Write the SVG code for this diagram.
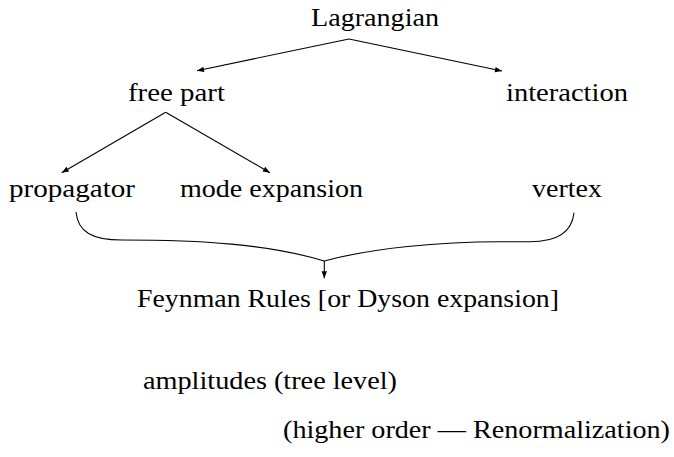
<svg xmlns="http://www.w3.org/2000/svg" width="674" height="457" viewBox="0 0 674 457">
<style>
.c{fill:none;stroke:#000;stroke-width:1.1}
.t{font-family:"Liberation Serif","DejaVu Serif","Noto Serif",Tinos,FreeSerif,"Times New Roman",Times,serif;font-size:25.5px;fill:#000}
</style>
<defs>
<marker id="ah" markerUnits="userSpaceOnUse" markerWidth="10" markerHeight="8" viewBox="0 -4 8 8" refX="7" refY="0" orient="auto">
<path d="M0,-2.7 L7,0 L0,2.7 z" fill="#000"/>
</marker>
</defs>
<rect width="674" height="457" fill="#fff"/>
<g id="connectors">
<path class="c" d="M349,39 L197,70.7" marker-end="url(#ah)"/>
<path class="c" d="M349,39 L502,71" marker-end="url(#ah)"/>
<path class="c" d="M165.7,112.3 L61.7,172.7" marker-end="url(#ah)"/>
<path class="c" d="M165.7,112.3 L270,172.7" marker-end="url(#ah)"/>
<path class="c" d="M76,212 C78,232 92,240 122,240 C200,240 268,244 324.3,261 C372,248 440,241.7 500,241.7 L530,241.7 C558,241.7 572,232 574,212.7"/>
<path class="c" d="M324.3,261 L324.3,278.3" marker-end="url(#ah)"/>
</g>
<g id="lagrangian"><text class="t" x="311" y="26" textLength="128" lengthAdjust="spacingAndGlyphs">Lagrangian</text></g>
<g id="free-part"><text class="t" x="128" y="101" textLength="97" lengthAdjust="spacingAndGlyphs">free part</text></g>
<g id="interaction"><text class="t" x="506" y="101" textLength="122" lengthAdjust="spacingAndGlyphs">interaction</text></g>
<g id="propagator"><text class="t" x="9" y="197" textLength="126" lengthAdjust="spacingAndGlyphs">propagator</text></g>
<g id="mode-expansion"><text class="t" x="180" y="197" textLength="183" lengthAdjust="spacingAndGlyphs">mode expansion</text></g>
<g id="vertex"><text class="t" x="532" y="197" textLength="70" lengthAdjust="spacingAndGlyphs">vertex</text></g>
<g id="feynman-rules"><text class="t" x="137" y="307" textLength="422" lengthAdjust="spacingAndGlyphs">Feynman Rules [or Dyson expansion]</text></g>
<g id="amplitudes"><text class="t" x="143" y="389" textLength="254" lengthAdjust="spacingAndGlyphs">amplitudes (tree level)</text></g>
<g id="higher-order"><text class="t" x="283" y="438" textLength="387" lengthAdjust="spacingAndGlyphs">(higher order — Renormalization)</text></g>
</svg>
